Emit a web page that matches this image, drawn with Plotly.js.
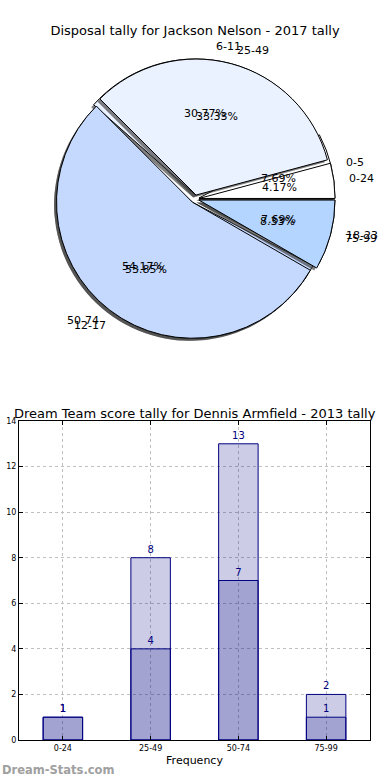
<!DOCTYPE html>
<html>
<head>
<meta charset="utf-8">
<script src="https://cdn.plot.ly/plotly-3.0.1.min.js"></script>
<style>html,body{margin:0;padding:0;background:#fff;}#chart{width:390px;height:780px;}</style>
</head>
<body>
<div id="chart"></div>
<script>
// ---- data ----
var pieTitle = "Disposal tally for Jackson Nelson - 2017 tally";
var disposalLabels = ["0-5", "6-11", "12-17", "18-23"];
var disposalCounts = [1, 4, 7, 1];
var scoreLabels = ["0-24", "25-49", "50-74", "75-99"];
var scoreCounts = [1, 8, 13, 2];
var pieColors = ["#ffffff", "#eaf1ff", "#c5d9ff", "#b4d5ff"];

var barTitle = "Dream Team score tally for Dennis Armfield - 2013 tally";
var barCategories = ["0-24", "25-49", "50-74", "75-99"];
var barTotals = [1, 8, 13, 2];
var barSubset = [1, 4, 7, 1];
var yTicks = [0, 2, 4, 6, 8, 10, 12, 14];

// ---- geometry ----
var W = 390, H = 780;
var cx = 195, cy = 199, R = 136, PULL = 0.03;
var half = R * (1 + PULL);
function px(x) { return x / W; }
function py(y) { return 1 - y / H; }
function pieDomain(dx, dy) {
  return { x: [px(cx - half + dx), px(cx + half + dx)], y: [py(cy + half + dy), py(cy - half + dy)] };
}
function pieTrace(labels, vals, colors, dom, line) {
  var tot = vals.reduce(function (a, b) { return a + b; }, 0);
  // first wedge starts at 3 o'clock and the pie runs counterclockwise
  var rot = 90 - 360 * vals[0] / tot;
  return {
    type: 'pie', labels: labels, values: vals, sort: false, direction: 'counterclockwise',
    rotation: rot, pull: vals.map(function () { return PULL; }), textinfo: 'none', hoverinfo: 'none',
    marker: { colors: colors, line: line }, domain: dom, showlegend: false
  };
}
var shadowCol = function (n) { var a = []; for (var i = 0; i < n; i++) a.push('rgba(60,60,60,0.65)'); return a; };

var traces = [
  pieTrace(disposalLabels, disposalCounts, shadowCol(4), pieDomain(-2.5, 2.5), { width: 0 }),
  pieTrace(disposalLabels, disposalCounts, pieColors, pieDomain(0, 0), { color: '#000', width: 1 }),
  pieTrace(scoreLabels, scoreCounts, shadowCol(4), pieDomain(-2.5, 2.5), { width: 0 }),
  pieTrace(scoreLabels, scoreCounts, pieColors, pieDomain(0, 0), { color: '#000', width: 1 })
];

var annotations = [];
function pieText(labels, vals) {
  var tot = vals.reduce(function (a, b) { return a + b; }, 0);
  var start = 0;
  for (var i = 0; i < vals.length; i++) {
    var span = 360 * vals[i] / tot;
    var th = (start + span / 2) * Math.PI / 180;
    start += span;
    var ox = cx + PULL * R * Math.cos(th), oy = cy - PULL * R * Math.sin(th);
    annotations.push({
      xref: 'paper', yref: 'paper', x: px(ox + 0.6 * R * Math.cos(th)), y: py(oy - 0.6 * R * Math.sin(th)),
      text: (100 * vals[i] / tot).toFixed(2) + '%', showarrow: false, xanchor: 'center', yanchor: 'middle',
      font: { family: 'DejaVu Sans', size: 11, color: '#000' }
    });
    annotations.push({
      xref: 'paper', yref: 'paper', x: px(ox + 1.1 * R * Math.cos(th)), y: py(oy - 1.1 * R * Math.sin(th)),
      text: labels[i], showarrow: false, xanchor: Math.cos(th) > 0 ? 'left' : 'right', yanchor: 'middle',
      font: { family: 'DejaVu Sans', size: 11, color: '#000' }
    });
  }
}
pieText(disposalLabels, disposalCounts);
pieText(scoreLabels, scoreCounts);

var barFill = 'rgba(0,0,128,0.2)';
traces.push({
  type: 'bar', x: barCategories, y: barTotals, width: 0.45, xaxis: 'x', yaxis: 'y',
  marker: { color: barFill, line: { color: '#000080', width: 1 } },
  text: barTotals.map(String), textposition: 'outside', cliponaxis: false,
  textfont: { family: 'DejaVu Sans', size: 10, color: '#000080' }, hoverinfo: 'none', showlegend: false
});
traces.push({
  type: 'bar', x: barCategories, y: barSubset, width: 0.45, xaxis: 'x', yaxis: 'y',
  marker: { color: barFill, line: { color: '#000080', width: 1 } },
  text: barSubset.map(String), textposition: 'outside', cliponaxis: false,
  textfont: { family: 'DejaVu Sans', size: 10, color: '#000080' }, hoverinfo: 'none', showlegend: false
});

annotations.push({
  xref: 'paper', yref: 'paper', x: px(195), y: py(413), text: barTitle, showarrow: false,
  xanchor: 'center', yanchor: 'middle', font: { family: 'DejaVu Sans', size: 13, color: '#000' }
});
annotations.push({
  xref: 'paper', yref: 'paper', x: px(0), y: py(770), text: '<b>Dream-Stats.com</b>', showarrow: false,
  xanchor: 'left', yanchor: 'middle', font: { family: 'DejaVu Sans', size: 11.5, color: '#a0a0a0' }
});

var layout = {
  width: W, height: H, margin: { l: 0, r: 0, t: 0, b: 0 }, paper_bgcolor: '#fff', plot_bgcolor: '#fff',
  font: { family: 'DejaVu Sans', color: '#000' },
  title: { text: pieTitle, x: 0.5, xanchor: 'center', y: py(30), yanchor: 'middle', font: { family: 'DejaVu Sans', size: 13, color: '#000' } },
  barmode: 'overlay',
  xaxis: {
    domain: [px(19), px(370)], type: 'category', range: [-0.5, 3.5], anchor: 'y',
    showline: true, linecolor: '#000', linewidth: 1, mirror: 'ticks', ticks: 'inside', ticklen: 4, tickcolor: '#000',
    showgrid: true, gridcolor: '#c0c0c0', griddash: 'dot', gridwidth: 1, zeroline: false,
    tickfont: { family: 'DejaVu Sans', size: 8, color: '#000' },
    title: { text: 'Frequency', font: { family: 'DejaVu Sans', size: 11, color: '#000' }, standoff: 4 }
  },
  yaxis: {
    domain: [py(740), py(421)], range: [0, 14], anchor: 'x', tickvals: yTicks,
    showline: true, linecolor: '#000', linewidth: 1, mirror: 'ticks', ticks: 'inside', ticklen: 4, tickcolor: '#000',
    showgrid: true, gridcolor: '#c0c0c0', griddash: 'dot', gridwidth: 1, zeroline: false,
    tickfont: { family: 'DejaVu Sans', size: 8, color: '#000' }
  },
  annotations: annotations
};

Plotly.newPlot('chart', traces, layout, { staticPlot: true, displayModeBar: false });
</script>
</body>
</html>
